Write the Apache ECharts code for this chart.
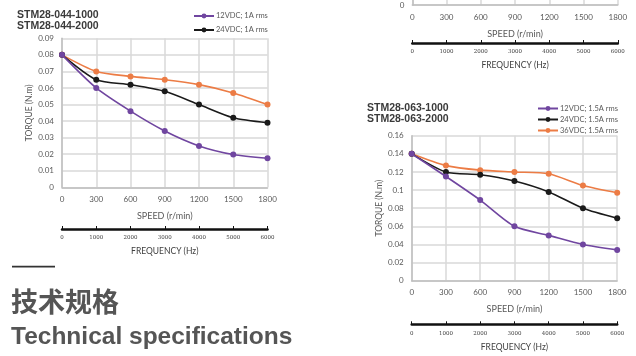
<!DOCTYPE html>
<html><head><meta charset="utf-8">
<script src="https://cdn.jsdelivr.net/npm/echarts@6/dist/echarts.min.js"></script>
<style>html,body{margin:0;padding:0;background:#fff}#c{width:636px;height:356px}</style>
</head><body><div id="c"></div>
<script>
const speedTicks = [0, 300, 600, 900, 1200, 1500, 1800];
const freqTicks = [0, 1000, 2000, 3000, 4000, 5000, 6000];
const torqueTicksLeft = [0, 0.01, 0.09];
const torqueTicksRight = [0, 0.02, 0.16];
const torqueTicksCut = [0, 1, 1];

const leftNames = ['12VDC; 1A rms', '24VDC; 1A rms', '36VDC; 1A rms'];
const left12 = [0.08, 0.06, 0.046, 0.034, 0.025, 0.0198, 0.0175];
const left24 = [0.08, 0.065, 0.062, 0.058, 0.05, 0.042, 0.039];
const left36 = [0.08, 0.07, 0.067, 0.065, 0.062, 0.057, 0.05];

const rightNames = ['12VDC; 1.5A rms', '24VDC; 1.5A rms', '36VDC; 1.5A rms'];
const right12 = [0.14, 0.115, 0.089, 0.06, 0.05, 0.04, 0.034];
const right24 = [0.14, 0.12, 0.117, 0.11, 0.098, 0.08, 0.069];
const right36 = [0.14, 0.127, 0.122, 0.12, 0.118, 0.105, 0.097];

const titleLeft = 'STM28-044-1000\nSTM28-044-2000';
const titleRight = 'STM28-063-1000\nSTM28-063-2000';
const speedName = 'SPEED (r/min)';
const freqName = 'FREQUENCY (Hz)';
const torqueName = 'TORQUE (N.m)';
const headingCn = '技术规格';
const headingEn = 'Technical specifications';

const colors = ['#7046a0', '#1a1a1a', '#ec7c45'];
const FONT = 'Lato';
const TXT = '#595959';

function pairs(arr) { return speedTicks.map((s, i) => [s, arr[i]]); }
const plain = v => String(v);

function speedAxis(gi, gap) {
  return {
    type: 'value', gridIndex: gi,
    min: speedTicks[0], max: speedTicks[speedTicks.length - 1],
    interval: speedTicks[1] - speedTicks[0],
    name: speedName, nameLocation: 'middle', nameGap: gap || 24,
    nameTextStyle: { fontFamily: FONT, fontSize: 9, color: TXT },
    axisLine: { show: true, lineStyle: { color: '#bfbfbf', width: 1.5 } },
    axisTick: { show: false },
    axisLabel: { fontFamily: FONT, fontSize: 8, color: TXT, margin: 8, formatter: plain },
    splitLine: { show: true, lineStyle: { color: '#d9d9d9', width: 1.5 } }
  };
}
function freqAxis(gi) {
  return {
    type: 'value', gridIndex: gi, position: 'bottom',
    min: freqTicks[0], max: freqTicks[freqTicks.length - 1],
    interval: freqTicks[1] - freqTicks[0],
    name: freqName, nameLocation: 'middle', nameGap: 18,
    nameTextStyle: { fontFamily: FONT, fontSize: 8.5, color: '#404040' },
    axisLine: { show: true, lineStyle: { color: '#111', width: 2.5 } },
    axisTick: { show: true, inside: true, length: 3, lineStyle: { color: '#111', width: 1 } },
    axisLabel: { fontFamily: 'DejaVu Serif', fontSize: 5.5, color: '#404040', margin: 6, formatter: plain },
    splitLine: { show: false }
  };
}
function torqueAxis(gi, ticks, withName) {
  return {
    type: 'value', gridIndex: gi,
    min: ticks[0], max: ticks[2], interval: ticks[1],
    name: withName ? torqueName : '', nameLocation: 'middle', nameGap: 28, nameRotate: 90,
    nameTextStyle: { fontFamily: FONT, fontSize: 8.5, color: TXT },
    axisLine: { show: true, lineStyle: { color: '#bfbfbf', width: 1.5 } },
    axisTick: { show: false },
    axisLabel: { fontFamily: FONT, fontSize: 8, color: TXT, margin: 8, showMinLabel: true,
      hideOverlap: false, formatter: withName ? null : (v => (v === 0 ? '0' : '')) },
    splitLine: { show: true, showMaxLine: withName, lineStyle: { color: '#d9d9d9', width: 1.5 } }
  };
}
function hiddenY(gi) { return { type: 'value', gridIndex: gi, show: false }; }

function line(name, arr, ci, xi) {
  return {
    type: 'line', name: name, xAxisIndex: xi, yAxisIndex: xi,
    data: pairs(arr), smooth: 0.25, symbol: 'circle', symbolSize: 6,
    lineStyle: { color: colors[ci], width: 1.6 },
    itemStyle: { color: colors[ci] },
    z: 5 - ci, animation: false
  };
}

const chart = echarts.init(document.getElementById('c'), null, { renderer: 'canvas' });
chart.setOption({
  animation: false,
  title: [
    { text: titleLeft, left: 12, top: 5, textStyle: { fontFamily: 'Liberation Sans', fontSize: 10.5, fontWeight: 'bold', lineHeight: 11, color: '#3a3a3a' } },
    { text: titleRight, left: 362, top: 98, textStyle: { fontFamily: 'Liberation Sans', fontSize: 10.5, fontWeight: 'bold', lineHeight: 11, color: '#3a3a3a' } }
  ],
  legend: [
    { data: leftNames.slice(0, 2), orient: 'vertical', left: 193, top: 12, padding: 0, itemWidth: 20, itemHeight: 6, itemGap: 6,
      textStyle: { fontFamily: FONT, fontSize: 7.5, color: TXT, padding: [0, 0, 0, -3] } },
    { data: rightNames, orient: 'vertical', left: 537, top: 104.5, padding: 0, itemWidth: 20, itemHeight: 6, itemGap: 3,
      textStyle: { fontFamily: FONT, fontSize: 7.5, color: TXT, padding: [0, 0, 0, -3] } }
  ],
  grid: [
    { left: 62, top: 38.3, width: 205.5, height: 149 },
    { left: 62, top: 228, width: 205.5, height: 1 },
    { left: 412.3, top: 0, width: 205.5, height: 5 },
    { left: 412.3, top: 42, width: 205.5, height: 1 },
    { left: 411.7, top: 135.7, width: 205.5, height: 145 },
    { left: 411.7, top: 323.3, width: 205.5, height: 1 }
  ],
  xAxis: [speedAxis(0), freqAxis(1), speedAxis(2, 25), freqAxis(3), speedAxis(4), freqAxis(5)],
  yAxis: [torqueAxis(0, torqueTicksLeft, true), hiddenY(1), torqueAxis(2, torqueTicksCut, false), hiddenY(3), torqueAxis(4, torqueTicksRight, true), hiddenY(5)],
  series: [
    line(leftNames[2], left36, 2, 0),
    line(leftNames[1], left24, 1, 0),
    line(leftNames[0], left12, 0, 0),
    line(rightNames[2], right36, 2, 4),
    line(rightNames[1], right24, 1, 4),
    line(rightNames[0], right12, 0, 4)
  ],
  graphic: [
    { type: 'rect', shape: { x: 12, y: 265.8, width: 43, height: 1.6 }, style: { fill: '#333' } },
    { type: 'text', left: 11, top: 288, style: { text: headingCn, font: 'bold 27px "Noto Sans CJK SC"', fill: '#555' } },
    { type: 'text', left: 11, top: 325, style: { text: headingEn, font: 'bold 24.5px "Liberation Sans"', fill: '#555' } }
  ]
});
</script>
</body></html>
